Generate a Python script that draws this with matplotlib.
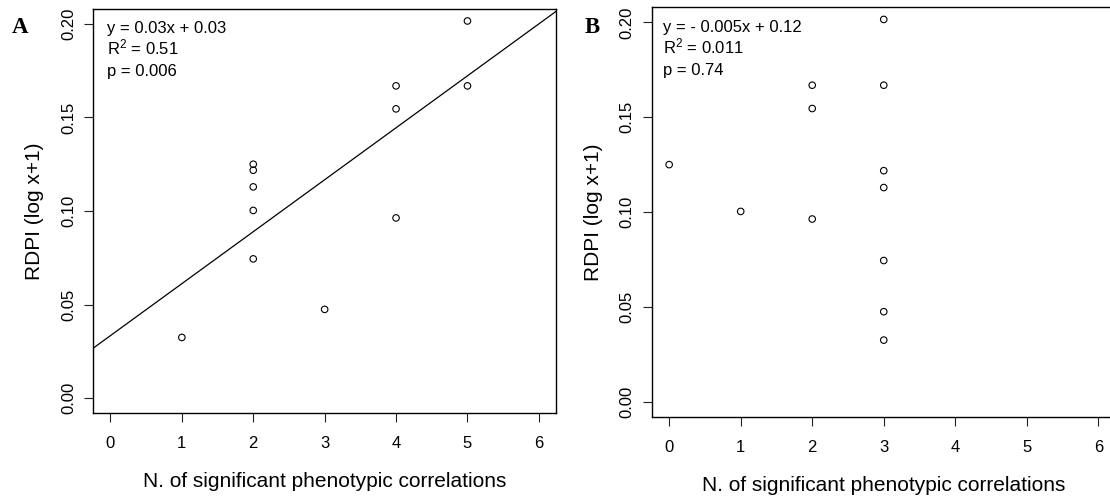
import numpy as np
import matplotlib
matplotlib.use("Agg")
import matplotlib.pyplot as plt

# -------------------------
# Data
# -------------------------

# RDPI values (log x+1), shared by both panels
rdpi = [0.0324, 0.0474, 0.0744, 0.0963, 0.1003, 0.1129,
        0.1218, 0.1250, 0.1546, 0.1669, 0.1669, 0.2016]

# N. of significant phenotypic correlations, panel A and panel B
n_corr_a = [1, 3, 2, 4, 2, 2, 2, 2, 4, 4, 5, 5]
n_corr_b = [3, 3, 3, 2, 1, 3, 3, 0, 2, 2, 3, 3]

stats_a = ["y = 0.03x + 0.03", r"$\mathrm{R}^2$ = 0.51", "p = 0.006"]
stats_b = ["y = - 0.005x + 0.12", r"$\mathrm{R}^2$ = 0.011", "p = 0.74"]

x_ticks = [0, 1, 2, 3, 4, 5, 6]
y_ticks = [0.00, 0.05, 0.10, 0.15, 0.20]

# -------------------------
# Style
# -------------------------

plt.rcParams["font.family"] = ["Liberation Sans", "DejaVu Sans"]
plt.rcParams["mathtext.fontset"] = "custom"
plt.rcParams["mathtext.rm"] = "Liberation Sans"
plt.rcParams["mathtext.it"] = "Liberation Sans:italic"
plt.rcParams["axes.linewidth"] = 1.0

W, H = 1110, 497
fig = plt.figure(figsize=(W / 100, H / 100), dpi=100)


def px_axes(left, top, right, bottom):
    # axes rectangle given in pixel coordinates of the picture
    return fig.add_axes([left / W, 1 - bottom / H, (right - left) / W, (bottom - top) / H])


ax_a = px_axes(93.3, 9, 556, 413)
ax_b = px_axes(652, 7.3, 1115.5, 416.7)


def style_axes(ax):
    ax.set_xlim(-0.24, 6.24)
    ax.set_ylim(-0.008, 0.208)
    ax.set_xticks(x_ticks)
    ax.set_xticklabels([str(t) for t in x_ticks])
    ax.set_yticks(y_ticks)
    ax.set_yticklabels([f"{t:.2f}" for t in y_ticks], rotation=90, va="center")
    ax.tick_params(axis="both", direction="out", length=6.5, width=0.8,
                   labelsize=12, color="#222222")
    ax.tick_params(axis="x", pad=10)
    ax.tick_params(axis="y", pad=6)
    ax.set_xlabel("N. of significant phenotypic correlations", fontsize=15, labelpad=15.5)
    ax.set_ylabel("RDPI (log x+1)", fontsize=15, labelpad=12)


def add_stats(ax, lines, x0):
    for i, s in enumerate(lines):
        ax.text(x0, 0.94 - i * 0.053, s, transform=ax.transAxes,
                fontsize=12, va="baseline", ha="left")


# Panel A: scatter with fitted regression line
ax_a.scatter(n_corr_a, rdpi, s=22, facecolors="none", edgecolors="black", linewidths=0.8)
slope, intercept = np.polyfit(n_corr_a, rdpi, 1)
ax_a.axline((0, intercept), slope=slope, color="black", linewidth=0.9)
style_axes(ax_a)
add_stats(ax_a, stats_a, 0.029)

# Panel B: scatter only
ax_b.scatter(n_corr_b, rdpi, s=22, facecolors="none", edgecolors="black", linewidths=0.8)
style_axes(ax_b)
add_stats(ax_b, stats_b, 0.024)

# Panel letters
fig.text(11.5 / W, 1 - 33 / H, "A", fontsize=16.5, fontweight="bold",
         family="Liberation Serif", va="baseline")
fig.text(585 / W, 1 - 33 / H, "B", fontsize=16.5, fontweight="bold",
         family="Liberation Serif", va="baseline")

fig.savefig("out.png", dpi=100)
